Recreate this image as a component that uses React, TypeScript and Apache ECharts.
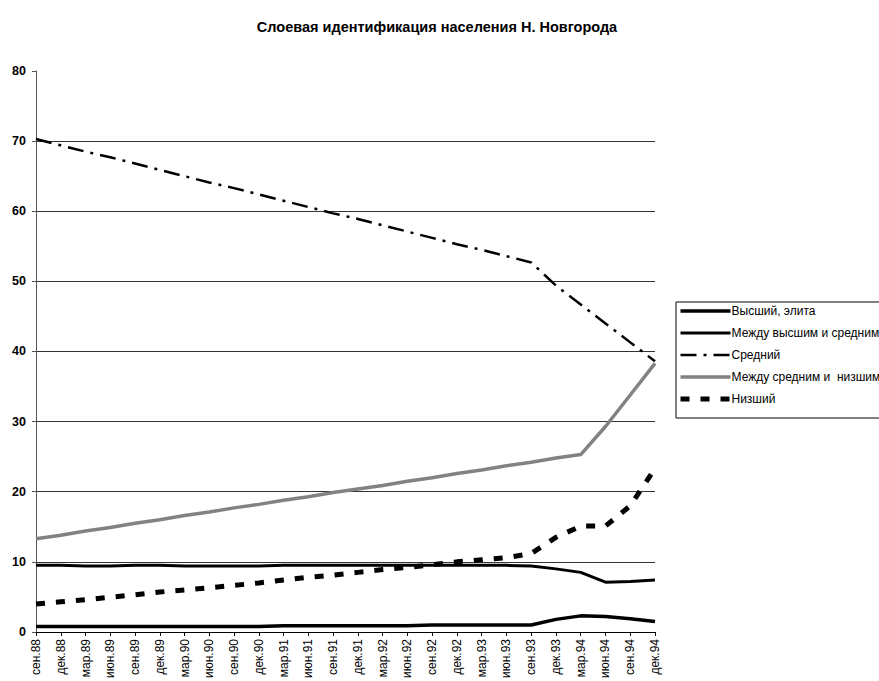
import React, { useEffect, useRef } from "react";
import * as echarts from "echarts";

const categories = [
  "сен.88", "дек.88", "мар.89", "июн.89", "сен.89", "дек.89", "мар.90", "июн.90",
  "сен.90", "дек.90", "мар.91", "июн.91", "сен.91", "дек.91", "мар.92", "июн.92",
  "сен.92", "дек.92", "мар.93", "июн.93", "сен.93", "дек.93", "мар.94", "июн.94",
  "сен.94", "дек.94",
];

const vysshiy = [0.8, 0.8, 0.8, 0.8, 0.8, 0.8, 0.8, 0.8, 0.8, 0.8, 0.9, 0.9, 0.9, 0.9, 0.9, 0.9, 1.0, 1.0, 1.0, 1.0, 1.0, 1.8, 2.3, 2.2, 1.9, 1.5];
const mezhduVysSred = [9.5, 9.5, 9.4, 9.4, 9.5, 9.5, 9.4, 9.4, 9.4, 9.4, 9.5, 9.5, 9.5, 9.5, 9.5, 9.5, 9.5, 9.5, 9.5, 9.5, 9.4, 9.0, 8.5, 7.1, 7.2, 7.4];
const sredniy = [70.3, 69.4, 68.5, 67.7, 66.8, 65.9, 65.0, 64.1, 63.3, 62.4, 61.5, 60.6, 59.7, 58.9, 58.0, 57.1, 56.2, 55.3, 54.5, 53.6, 52.7, 49.4, 46.7, 44.0, 41.3, 38.6];
const mezhduSredNiz = [13.3, 13.8, 14.4, 14.9, 15.5, 16.0, 16.6, 17.1, 17.7, 18.2, 18.8, 19.3, 19.9, 20.4, 20.9, 21.5, 22.0, 22.6, 23.1, 23.7, 24.2, 24.8, 25.3, 29.3, 33.8, 38.3];
const nizshiy = [4.0, 4.3, 4.6, 4.95, 5.3, 5.7, 6.0, 6.3, 6.65, 7.0, 7.4, 7.8, 8.1, 8.5, 8.9, 9.2, 9.6, 10.0, 10.3, 10.6, 11.2, 13.5, 15.1, 15.1, 18.0, 23.3];

const seriesNames = [
  "Высший, элита",
  "Между высшим и средним",
  "Средний",
  "Между средним и  низшим",
  "Низший",
];

const FONT = "'Liberation Sans', Arial, sans-serif";

export default function App() {
  const ref = useRef<HTMLDivElement>(null);
  useEffect(() => {
    if (!ref.current) return;
    const chart = echarts.init(ref.current, null, { renderer: "svg" });
    chart.setOption({
      animation: false,
      backgroundColor: "#ffffff",
      title: {
        text: "Слоевая идентификация населения Н. Новгорода",
        left: 432,
        textAlign: "center",
        top: 14,
        textStyle: { fontFamily: FONT, fontSize: 14.5, fontWeight: "bold", color: "#000" },
      },
      legend: {
        orient: "vertical",
        left: 676,
        top: 302,
        itemWidth: 50,
        itemHeight: 12,
        itemGap: 10,
        padding: [3, 4, 13, 2],
        borderColor: "#000",
        borderWidth: 1,
        itemStyle: { opacity: 0 },
        lineStyle: { width: "inherit" },
        textStyle: { fontFamily: FONT, fontSize: 12, color: "#000", padding: [0, 0, 0, -4] },
        data: seriesNames,
      },
      grid: { left: 36, right: 224, top: 71, bottom: 48, containLabel: false },
      xAxis: {
        type: "category",
        data: categories,
        boundaryGap: false,
        axisLine: { lineStyle: { color: "#000", width: 1 } },
        axisTick: { show: true, length: 4, lineStyle: { color: "#000" } },
        axisLabel: {
          rotate: 90,
          interval: 0,
          margin: 7,
          fontFamily: FONT,
          fontSize: 12,
          color: "#000",
        },
        splitLine: { show: false },
      },
      yAxis: {
        type: "value",
        min: 0,
        max: 80,
        interval: 10,
        axisLine: { show: true, lineStyle: { color: "#555", width: 1 } },
        axisTick: { show: true, length: 4, lineStyle: { color: "#555" } },
        axisLabel: {
          margin: 10,
          fontFamily: FONT,
          fontSize: 12.5,
          fontWeight: "bold",
          color: "#000",
        },
        splitLine: { show: true, showMaxLine: false, lineStyle: { color: "#333", width: 1 } },
      },
      series: [
        {
          name: seriesNames[0],
          type: "line",
          data: vysshiy,
          symbol: "none",
          lineStyle: { color: "#000", width: 3.5 },
          itemStyle: { color: "#000" },
        },
        {
          name: seriesNames[1],
          type: "line",
          data: mezhduVysSred,
          symbol: "none",
          lineStyle: { color: "#000", width: 3 },
          itemStyle: { color: "#000" },
        },
        {
          name: seriesNames[2],
          type: "line",
          data: sredniy,
          symbol: "none",
          lineStyle: { color: "#000", width: 2.5, type: [16, 7, 3, 7] },
          itemStyle: { color: "#000" },
        },
        {
          name: seriesNames[3],
          type: "line",
          data: mezhduSredNiz,
          symbol: "none",
          lineStyle: { color: "#828282", width: 3.5 },
          itemStyle: { color: "#828282" },
        },
        {
          name: seriesNames[4],
          type: "line",
          data: nizshiy,
          symbol: "none",
          lineStyle: { color: "#000", width: 5, type: [9, 11] },
          itemStyle: { color: "#000" },
        },
      ],
    });
    return () => chart.dispose();
  }, []);
  return <div ref={ref} style={{ width: 879, height: 681, position: "absolute", left: 0, top: 0 }} />;
}
